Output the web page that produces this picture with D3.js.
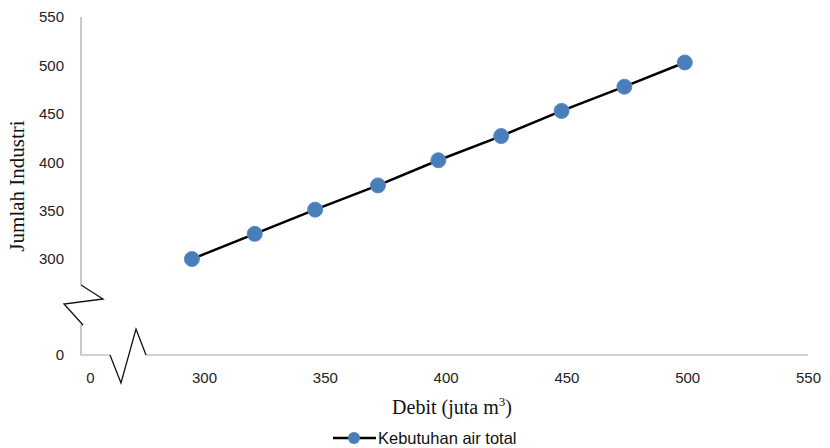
<!DOCTYPE html>
<html><head><meta charset="utf-8">
<script src="https://cdn.jsdelivr.net/npm/d3@7"></script>
<style>body{margin:0;background:#fff}</style>
</head><body><svg id="c" width="830" height="448"></svg>
<script>
const debit = [295, 321, 346, 372, 397, 423, 448, 474, 499];
const industri = [300, 326, 351, 376, 402, 427, 453, 478, 503];
const xTicks = [300, 350, 400, 450, 500, 550];
const yTicks = [300, 350, 400, 450, 500, 550];
const xBreakTick = [0];
const yBreakTick = [0];
const seriesName = "Kebutuhan air total";

const svg = d3.select("#c");
const x = d3.scaleLinear().domain([300, 550]).range([204, 808]);
const y = d3.scaleLinear().domain([300, 550]).range([259, 17]);
const xLow = d3.scaleLinear().domain([0, 1]).range([90, 91]);
const yLow = d3.scaleLinear().domain([0, 1]).range([355, 354]);
const axisColor = "#a6a6a6";
const tickFont = "'Liberation Sans', Arial, sans-serif";
const serif = "'Liberation Serif', 'Times New Roman', serif";
const fmt = d3.format("d");

// axis lines with breaks
const g = svg.append("g");
g.append("path").attr("d", "M81,17 L81,285 M83,325 L81,325 L81,355 L110,355 M146,355 L808,355")
  .attr("fill", "none").attr("stroke", axisColor).attr("stroke-width", 1.2);
g.append("path").attr("d", "M81,285 L103,299 L64,304 L83,325 M110,355 L121,383 L136,329 L146,355")
  .attr("fill", "none").attr("stroke", "#111").attr("stroke-width", 1.3);

function styleTicks(sel) {
  sel.select(".domain").remove();
  sel.selectAll("text").attr("font-family", tickFont).attr("font-size", 15).attr("fill", "#222");
}
// tick labels
svg.append("g").attr("transform", "translate(64,0)")
  .call(d3.axisLeft(y).tickValues(yTicks).tickFormat(fmt).tickSize(0).tickPadding(0)).call(styleTicks);
svg.append("g").attr("transform", "translate(64,0)")
  .call(d3.axisLeft(yLow).tickValues(yBreakTick).tickFormat(fmt).tickSize(0).tickPadding(0)).call(styleTicks);
svg.append("g").attr("transform", "translate(0,372)")
  .call(d3.axisBottom(x).tickValues(xTicks).tickFormat(fmt).tickSize(0).tickPadding(0)).call(styleTicks);
svg.append("g").attr("transform", "translate(0,372)")
  .call(d3.axisBottom(xLow).tickValues(xBreakTick).tickFormat(fmt).tickSize(0).tickPadding(0)).call(styleTicks);

// titles
svg.append("text").attr("transform", "translate(24,186) rotate(-90)").attr("text-anchor", "middle")
  .attr("font-family", serif).attr("font-size", 21).attr("fill", "#111")
  .text("Jumlah Industri");
const xt = svg.append("text").attr("x", 452).attr("y", 414).attr("text-anchor", "middle")
  .attr("font-family", serif).attr("font-size", 20).attr("fill", "#111");
xt.append("tspan").text("Debit (juta m");
xt.append("tspan").attr("font-size", 13).attr("dy", -8).text("3");
xt.append("tspan").attr("dy", 8).text(")");

// line + markers
const pts = debit.map((d, i) => [d, industri[i]]);
svg.append("path").datum(pts)
  .attr("d", d3.line().x(d => x(d[0])).y(d => y(d[1])))
  .attr("fill", "none").attr("stroke", "#000").attr("stroke-width", 2.5);
svg.selectAll("circle.pt").data(pts).enter().append("circle").attr("class", "pt")
  .attr("cx", d => x(d[0])).attr("cy", d => y(d[1])).attr("r", 7.5)
  .attr("fill", "#4a7ebb").attr("stroke", "#5b8ac6").attr("stroke-width", 1);

// legend
svg.append("line").attr("x1", 333).attr("x2", 376).attr("y1", 438).attr("y2", 438).attr("stroke", "#000").attr("stroke-width", 2.5);
svg.append("circle").attr("cx", 354).attr("cy", 438).attr("r", 6).attr("fill", "#4a7ebb");
svg.append("text").attr("x", 378).attr("y", 444).attr("font-family", tickFont).attr("font-size", 16.5).attr("fill", "#111").text(seriesName);
</script></body></html>
